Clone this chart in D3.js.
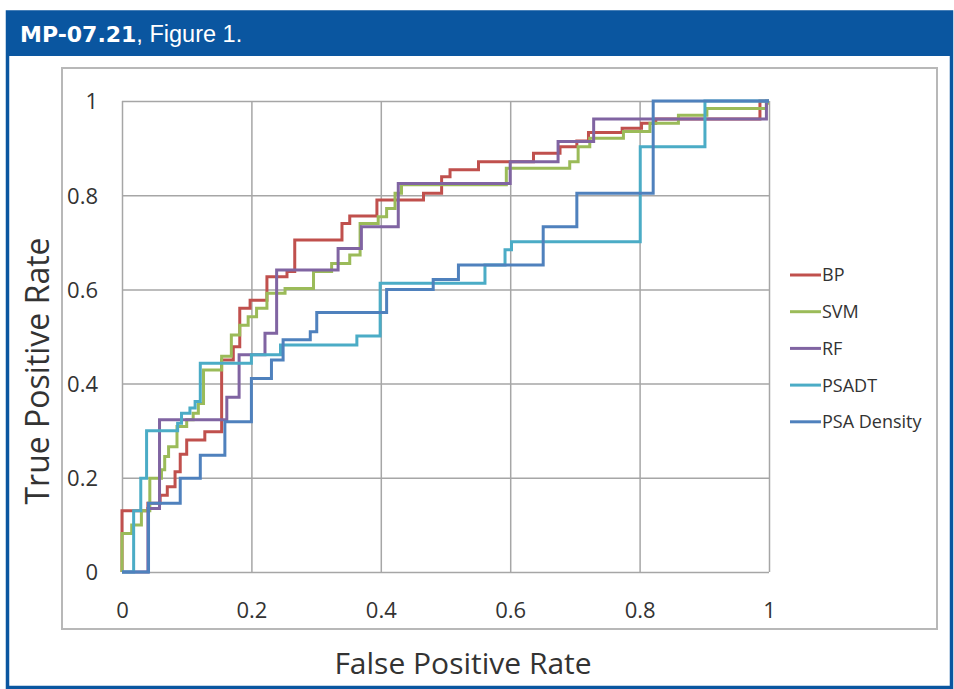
<!DOCTYPE html>
<html>
<head>
<meta charset="utf-8">
<script src="https://cdn.jsdelivr.net/npm/d3@7"></script>
<style>
  body { margin: 0; background: #fff; }
  svg { display: block; }
</style>
</head>
<body>
<div id="chart"></div>
<script>
// ROC curves, each point is [false positive rate, true positive rate]
// drawn as steps (horizontal first, then vertical)
const seriesNames = ["BP", "SVM", "RF", "PSADT", "PSA Density"];
const seriesColors = ["#c0504d", "#9bbb59", "#8064a2", "#4bacc6", "#4f81bd"];

const bp = [[0,0],[0,0.13],[0.04,0.146],[0.059,0.163],[0.07,0.181],[0.082,0.213],[0.09,0.25],
  [0.10,0.28],[0.128,0.298],[0.154,0.45],[0.172,0.478],[0.182,0.56],[0.198,0.577],[0.224,0.627],
  [0.255,0.638],[0.267,0.705],[0.340,0.740],[0.352,0.756],[0.394,0.790],[0.466,0.804],[0.494,0.839],
  [0.507,0.854],[0.551,0.871],[0.636,0.889],[0.677,0.903],[0.703,0.915],[0.721,0.933],[0.773,0.942],
  [0.803,0.953],[0.825,0.962],[0.986,1],[1,1]];

const svm = [[0,0],[0,0.082],[0.015,0.10],[0.03,0.13],[0.043,0.199],[0.061,0.217],[0.066,0.245],
  [0.072,0.266],[0.085,0.309],[0.10,0.323],[0.11,0.337],[0.118,0.358],[0.126,0.429],[0.154,0.458],
  [0.169,0.503],[0.182,0.524],[0.195,0.542],[0.208,0.56],[0.224,0.592],[0.252,0.602],[0.296,0.638],
  [0.324,0.655],[0.352,0.673],[0.368,0.740],[0.396,0.754],[0.409,0.772],[0.422,0.804],[0.432,0.822],
  [0.594,0.857],[0.692,0.871],[0.705,0.903],[0.723,0.921],[0.775,0.935],[0.816,0.953],[0.86,0.97],
  [0.904,0.984],[0.996,0.995],[1,0.995]];

const rf = [[0,0],[0.04,0.135],[0.058,0.323],[0.162,0.371],[0.181,0.461],[0.221,0.507],[0.239,0.641],
  [0.334,0.687],[0.370,0.733],[0.427,0.825],[0.600,0.871],[0.674,0.914],[0.729,0.962],[0.996,1],[1,1]];

const psadt = [[0,0],[0.018,0.13],[0.029,0.199],[0.038,0.30],[0.086,0.316],[0.092,0.337],[0.105,0.348],
  [0.113,0.362],[0.121,0.443],[0.2,0.461],[0.245,0.482],[0.363,0.501],[0.399,0.613],[0.561,0.652],
  [0.592,0.684],[0.602,0.701],[0.801,0.903],[0.901,1],[1,1]];

const psaDensity = [[0,0],[0.041,0.146],[0.09,0.199],[0.121,0.248],[0.159,0.319],[0.2,0.411],
  [0.231,0.45],[0.249,0.493],[0.291,0.51],[0.301,0.551],[0.409,0.6],[0.481,0.621],[0.52,0.652],
  [0.651,0.733],[0.703,0.804],[0.821,1],[1,1]];

const tickValues = [0, 0.2, 0.4, 0.6, 0.8, 1];
const tickLabels = ["0", "0.2", "0.4", "0.6", "0.8", "1"];

const allSeries = [bp, svm, rf, psadt, psaDensity];

// page size
var width = 954,
    height = 689;

var svg = d3.select("#chart").append("svg")
    .attr("width", width)
    .attr("height", height);

// blue figure frame and header band
svg.append("rect")
    .attr("x", 7.5).attr("y", 12)
    .attr("width", 944).attr("height", 675.5)
    .attr("fill", "none")
    .attr("stroke", "#0a56a0")
    .attr("stroke-width", 3.5);

svg.append("rect")
    .attr("x", 6).attr("y", 12)
    .attr("width", 947).attr("height", 44)
    .attr("fill", "#0a56a0");

var title = svg.append("text")
    .attr("x", 20).attr("y", 42)
    .attr("fill", "#fff");
title.append("tspan")
    .style("font-family", "DejaVu Sans")
    .style("font-weight", "bold")
    .style("font-size", "22px")
    .text("MP-07.21");
title.append("tspan")
    .style("font-family", "Liberation Sans")
    .style("font-size", "23.5px")
    .text(", Figure 1.");

// chart area frame
svg.append("rect")
    .attr("x", 62).attr("y", 68)
    .attr("width", 875).attr("height", 561)
    .attr("fill", "#fff")
    .attr("stroke", "#b8b8b8")
    .attr("stroke-width", 2);

// scales
var x = d3.scaleLinear().domain([0, 1]).range([122, 769]);
var y = d3.scaleLinear().domain([0, 1]).range([572, 101]);

var fmt = function(d) { return tickLabels[tickValues.indexOf(d)]; };

// gridlines + axes (tick lines stretched across the plot)
var xAxis = svg.append("g")
    .attr("transform", "translate(0," + y(0) + ")")
    .call(d3.axisBottom(x).tickValues(tickValues).tickFormat(fmt)
        .tickSize(-(y(0) - y(1))).tickPadding(30));

var yAxis = svg.append("g")
    .attr("transform", "translate(" + x(0) + ",0)")
    .call(d3.axisLeft(y).tickValues(tickValues).tickFormat(fmt)
        .tickSize(-(x(1) - x(0))).tickPadding(24));

[xAxis, yAxis].forEach(function(g) {
    g.select(".domain").remove();
    g.selectAll(".tick line")
        .attr("stroke", "#a6a6a6")
        .attr("stroke-width", 1.5);
    g.selectAll(".tick text")
        .attr("fill", "#333")
        .style("font-family", "Open Sans")
        .style("font-size", "22px");
});
yAxis.selectAll(".tick text").attr("dy", "0.36em");

// the curves
var line = d3.line()
    .x(function(d) { return x(d[0]); })
    .y(function(d) { return y(d[1]); })
    .curve(d3.curveStepAfter);

svg.selectAll(".roc")
    .data(allSeries)
    .enter()
    .append("path")
        .attr("class", "roc")
        .attr("d", line)
        .attr("fill", "none")
        .attr("stroke", function(d, i) { return seriesColors[i]; })
        .attr("stroke-width", 3)
        .attr("stroke-linejoin", "miter");

// legend
var legend = svg.append("g")
    .attr("transform", "translate(790,275)");

var items = legend.selectAll(".item")
    .data(seriesNames)
    .enter()
    .append("g")
        .attr("transform", function(d, i) { return "translate(0," + (i * 36.7) + ")"; });

items.append("line")
    .attr("x1", 0).attr("x2", 31)
    .attr("stroke", function(d, i) { return seriesColors[i]; })
    .attr("stroke-width", 3);

items.append("text")
    .attr("x", 32).attr("dy", "0.36em")
    .attr("fill", "#333")
    .style("font-family", "Open Sans")
    .style("font-size", "18px")
    .text(function(d) { return d; });

// axis titles
svg.append("text")
    .attr("x", 463).attr("y", 674)
    .attr("text-anchor", "middle")
    .attr("fill", "#333")
    .style("font-family", "Open Sans")
    .style("font-size", "30px")
    .text("False Positive Rate");

svg.append("text")
    .attr("transform", "translate(49,371) rotate(-90)")
    .attr("text-anchor", "middle")
    .attr("fill", "#333")
    .style("font-family", "Open Sans")
    .style("font-size", "32px")
    .text("True Positive Rate");
</script>
</body>
</html>
